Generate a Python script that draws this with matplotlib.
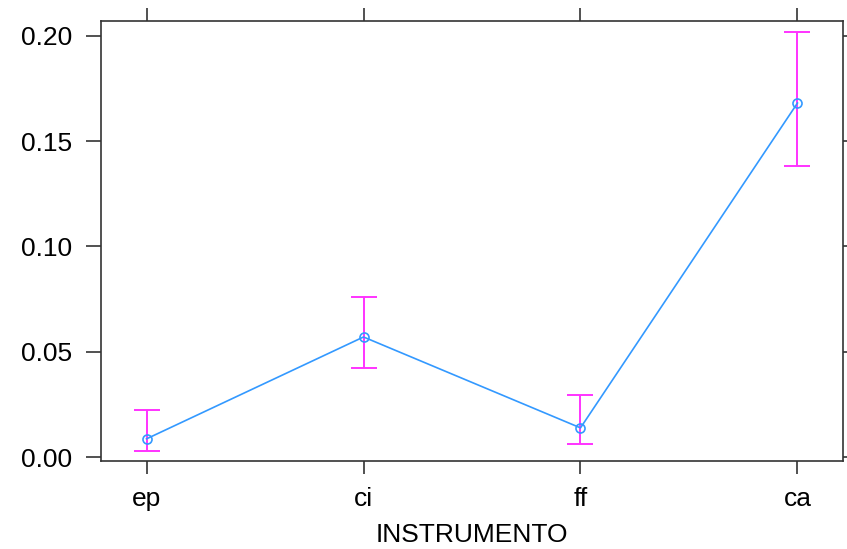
import numpy as np
import matplotlib
matplotlib.use("Agg")
from matplotlib import pyplot as plt

# efecto por instrumento con intervalos
instrumento = ["ep", "ci", "ff", "ca"]
efecto = [0.0088, 0.0571, 0.0140, 0.1680]
lim_inf = [0.0031, 0.0424, 0.0064, 0.1380]
lim_sup = [0.0225, 0.0761, 0.0296, 0.2017]

plt.rcParams['font.family'] = ['Liberation Sans', 'DejaVu Sans']

fig = plt.figure(figsize=(8.47, 5.49), dpi=100)
ax = fig.add_axes([0.1192, 0.1603, 0.8761, 0.8014])

x = np.arange(1, len(instrumento) + 1)
y = np.array(efecto)
err = [y - np.array(lim_inf), np.array(lim_sup) - y]

ax.errorbar(x, y, yerr=err, fmt="none", ecolor="#ff33ff", elinewidth=1.4,
            capsize=9.5, capthick=1.4, zorder=2)
ax.plot(x, y, color="#3399ff", lw=1.2, marker="o", ms=6.5, mfc="none",
        mec="#3399ff", mew=1.2, zorder=3)

ax.set_xlim(0.79, 4.21)
ax.set_ylim(-0.0017, 0.2069)
ax.set_xticks(x)
ax.set_xticklabels(instrumento)
ax.set_yticks([0.0, 0.05, 0.10, 0.15, 0.20])
ax.set_yticklabels(["0.00", "0.05", "0.10", "0.15", "0.20"])

ax.tick_params(axis="x", top=True, bottom=True, direction="out", length=9.5,
               width=1.2, color="#333333", labelsize=19, pad=9)
ax.tick_params(axis="y", left=True, right=True, direction="out", length=10.5,
               width=1.2, color="#333333", labelsize=19, pad=10)
for s in ax.spines.values():
    s.set_linewidth(1.2)
    s.set_color("#333333")

ax.set_xlabel("INSTRUMENTO", fontsize=19, labelpad=9)

fig.savefig("out.png", dpi=100)
